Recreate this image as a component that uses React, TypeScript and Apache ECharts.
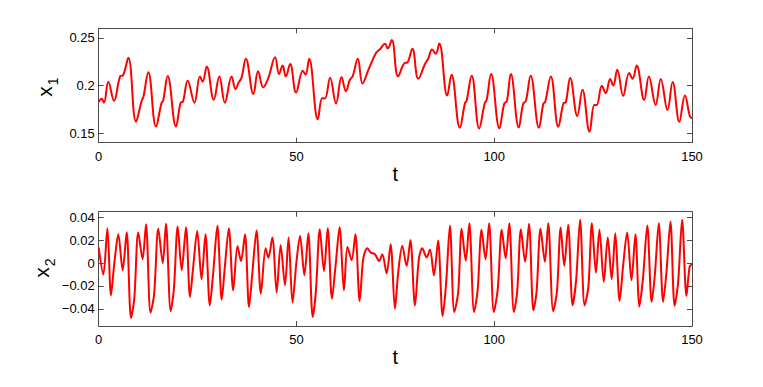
import React, { useEffect, useRef } from "react";
import * as echarts from "echarts";

const tTop = [0, 0.76, 1.34, 2.43, 3.87, 5.4, 6.2, 7.5, 9.43, 10.87, 11.3, 12.54, 14.48, 15.9, 16.3, 17.44, 19.54, 20.7, 21.3, 22.5, 24.2, 25.6, 26.3, 27.3, 29.1, 30.5, 31.9, 33.6, 34.6, 35.3, 36.1, 37.2, 39.1, 40.3, 41.6, 42.9, 44.6, 45.6, 46.5, 47.3, 48.4, 49.9, 51.6, 52.3, 53.2, 55.4, 56.5, 57.2, 58.5, 60, 61.4, 62.5, 63.5, 64.2, 65.5, 66.7, 68.2, 70.1, 71.1, 72.4, 73.05, 74.1, 75.7, 77.4, 78, 79.3, 80.8, 82.5, 83.3, 84.3, 85.2, 86.1, 88.1, 89.2, 91.3, 92.6, 93.0, 94.3, 96.2, 97.6, 98.1, 99.2, 101.3, 102.5, 103.2, 104.2, 106.2, 107.3, 108, 109.2, 111.3, 112.4, 112.9, 114.3, 116.2, 117.5, 118.1, 119.2, 121, 122.3, 124.1, 125.3, 125.9, 127.2, 128.2, 129.3, 130.1, 131.1, 132.6, 134.1, 135, 136, 137.9, 139.1, 140.8, 142.1, 143.8, 145.1, 146.8, 148.2, 149.5, 150];
const x1Values = [0.183, 0.186, 0.182, 0.204, 0.184, 0.2095, 0.211, 0.229, 0.162, 0.184, 0.188, 0.214, 0.157, 0.182, 0.184, 0.21, 0.157, 0.182, 0.183, 0.205, 0.182, 0.2095, 0.204, 0.22, 0.185, 0.2095, 0.182, 0.2095, 0.196, 0.2025, 0.208, 0.228, 0.191, 0.215, 0.198, 0.208, 0.2296, 0.212, 0.221, 0.2095, 0.2226, 0.1926, 0.2155, 0.2113, 0.228, 0.1645, 0.1867, 0.1863, 0.208, 0.181, 0.209, 0.194, 0.206, 0.2095, 0.228, 0.202, 0.2166, 0.234, 0.238, 0.2437, 0.2388, 0.2476, 0.2095, 0.2237, 0.224, 0.2385, 0.207, 0.2226, 0.228, 0.2377, 0.2332, 0.2441, 0.1894, 0.2113, 0.1556, 0.1814, 0.1838, 0.2103, 0.155, 0.1814, 0.185, 0.212, 0.155, 0.1807, 0.1838, 0.212, 0.156, 0.1807, 0.1838, 0.2103, 0.1556, 0.1807, 0.183, 0.2095, 0.1567, 0.1814, 0.1824, 0.2078, 0.168, 0.1955, 0.1514, 0.1796, 0.1796, 0.1997, 0.192, 0.2068, 0.2, 0.2166, 0.1891, 0.2131, 0.2071, 0.2211, 0.1849, 0.2095, 0.1796, 0.2068, 0.1743, 0.2036, 0.162, 0.1894, 0.1672, 0.166];

const tBottom = [0, 1.17, 2.2, 3.1, 3.95, 4.96, 6.06, 7.07, 8.17, 9.0, 10.0, 11.1, 11.96, 13.1, 14.0, 15.07, 16.2, 17.0, 18.2, 19.0, 19.97, 20.98, 22.07, 23.08, 23.9, 24.9, 26.0, 27.0, 28.1, 28.97, 30.0, 31.1, 31.9, 32.9, 34.0, 35.1, 35.97, 36.98, 38.0, 38.8, 39.9, 41.0, 42.2, 42.9, 43.9, 45.0, 46.0, 47.1, 48.0, 49.0, 50.0, 50.9, 52.0, 53.0, 54.1, 54.9, 55.9, 56.95, 57.9, 58.97, 59.9, 60.9, 62.0, 62.9, 63.95, 64.9, 65.97, 66.9, 67.9, 68.8, 69.8, 70.9, 71.7, 72.8, 73.8, 74.9, 75.7, 76.75, 77.85, 78.8, 79.95, 80.96, 81.8, 82.9, 83.75, 84.76, 85.8, 86.96, 87.8, 88.8, 89.9, 90.9, 91.76, 92.8, 93.7, 94.9, 95.8, 96.8, 97.8, 98.7, 99.9, 100.9, 101.9, 102.9, 103.8, 104.96, 105.8, 106.75, 107.8, 108.8, 109.9, 110.7, 111.7, 112.8, 113.65, 114.9, 115.85, 116.8, 117.7, 118.7, 119.8, 120.7, 121.7, 122.85, 123.8, 124.7, 125.7, 126.6, 127.7, 128.7, 129.7, 130.6, 131.7, 132.6, 133.6, 134.7, 135.7, 136.7, 137.6, 138.7, 139.8, 140.6, 141.6, 142.7, 143.55, 144.55, 145.6, 146.5, 147.5, 148.6, 149.4, 150];
const x2Values = [0.0136, -0.01, 0.0306, -0.0282, 0, 0.0253, -0.0062, 0.027, -0.048, -0.031, 0.0268, 0.0035, 0.034, -0.0434, -0.0276, 0.03, 0, 0.0344, -0.042, -0.023, 0.032, -0.0062, 0.0315, -0.0296, -0.003, 0.0282, -0.0141, 0.0253, -0.037, -0.0076, 0.0326, -0.032, -0.003, 0.0306, -0.0238, 0.015, 0.0018, 0.0253, -0.0384, -0.0106, 0.0285, -0.0267, 0.013, 0.0047, 0.0224, -0.0258, 0.0159, -0.0194, 0.0224, -0.0346, 0.0012, 0.0238, -0.0106, 0.0262, -0.0472, -0.0252, 0.0297, -0.007, 0.0306, -0.0311, -0.0018, 0.0315, -0.0238, 0.0144, 0.0026, 0.0253, -0.0331, 0.0041, 0.013, 0.0092, 0.008, 0.0018, 0.0077, -0.009, 0.0165, -0.04, -0.009, 0.0153, -0.0026, 0.0203, -0.037, 0.0041, 0.013, 0.005, 0.012, -0.0106, 0.0197, -0.0463, -0.0194, 0.033, -0.0428, -0.0252, 0.03, 0.0021, 0.035, -0.0428, -0.0238, 0.0291, 0.0035, 0.035, -0.0428, -0.0223, 0.0291, 0.0041, 0.035, -0.0428, -0.0252, 0.0297, 0.0012, 0.0344, -0.0414, -0.0252, 0.03, 0.0012, 0.035, -0.042, -0.0252, 0.0312, -0.0023, 0.0335, -0.037, -0.015, 0.0379, -0.037, -0.0208, 0.035, -0.0085, 0.0291, -0.0164, 0.0224, -0.0141, 0.0262, -0.0331, -0.0018, 0.0268, -0.015, 0.0253, -0.0379, -0.0135, 0.033, -0.034, -0.0106, 0.035, -0.034, -0.0076, 0.0365, -0.0375, -0.0164, 0.0379, -0.0287, -0.003, -0.001];

const xTicks = [0, 50, 100, 150];
const yTicksTop = [0.15, 0.2, 0.25];
const yTicksBottom = [-0.04, -0.02, 0, 0.02, 0.04];

const FONT = "'Liberation Sans', Arial, Helvetica, sans-serif";
const AXIS_COLOR = "#4a4a4a";

function zip(ts: number[], vs: number[]) {
  return ts.map((t, i) => [t, vs[i]]);
}

function fmt(v: number) {
  const s = String(Math.round(v * 1000) / 1000);
  return s.replace("-", "\u2212");
}

export default function App() {
  const ref = useRef<HTMLDivElement>(null);

  useEffect(() => {
    if (!ref.current) return;
    const chart = echarts.init(ref.current, undefined, { renderer: "svg" });

    const xBase = (gridIndex: number, top: boolean) => ({
      type: "value" as const,
      gridIndex,
      position: top ? "top" : "bottom",
      min: 0,
      max: 150,
      interval: 50,
      axisLine: { show: true, onZero: false, lineStyle: { color: AXIS_COLOR, width: 1 } },
      axisTick: { show: true, inside: true, length: 5, lineStyle: { color: AXIS_COLOR } },
      axisLabel: {
        show: !top,
        fontSize: 13,
        color: "#000",
        fontFamily: FONT,
        margin: 7,
        customValues: xTicks,
      },
      splitLine: { show: false },
      ...(top
        ? {}
        : {
            name: "t",
            nameLocation: "middle" as const,
            nameGap: 19,
            nameTextStyle: { fontSize: 20, color: "#000", fontFamily: FONT },
          }),
    });

    const yBase = (
      gridIndex: number,
      right: boolean,
      min: number,
      max: number,
      ticks: number[]
    ) => ({
      type: "value" as const,
      gridIndex,
      position: right ? "right" : "left",
      min,
      max,
      axisLine: { show: true, onZero: false, lineStyle: { color: AXIS_COLOR, width: 1 } },
      axisTick: {
        show: true,
        inside: true,
        length: 5,
        customValues: ticks,
        lineStyle: { color: AXIS_COLOR },
      },
      axisLabel: {
        show: !right,
        fontSize: 13,
        color: "#000",
        fontFamily: FONT,
        margin: 4,
        customValues: ticks,
        formatter: (v: number) => fmt(v),
      },
      splitLine: { show: false },
    });

    const subLabel = (x: number, y: number, sub: string) => ({
      type: "text",
      x,
      y,
      rotation: Math.PI / 2,
      style: {
        text: `{a|x}{b|${sub}}`,
        align: "center",
        verticalAlign: "middle",
        fill: "#000",
        rich: {
          a: { fontSize: 21, fontFamily: FONT, fill: "#000", verticalAlign: "top" },
          b: {
            fontSize: 14,
            fontFamily: FONT,
            fill: "#000",
            padding: [12, 0, 0, 1],
            verticalAlign: "bottom",
          },
        },
      },
    });

    chart.setOption({
      animation: false,
      backgroundColor: "#ffffff",
      grid: [
        { left: 98.7, top: 28.3, width: 593.3, height: 114.4 },
        { left: 98.7, top: 211.7, width: 593.3, height: 114.3 },
      ],
      xAxis: [xBase(0, false), xBase(0, true), xBase(1, false), xBase(1, true)],
      yAxis: [
        yBase(0, false, 0.14, 0.26, yTicksTop),
        yBase(0, true, 0.14, 0.26, yTicksTop),
        yBase(1, false, -0.055, 0.045, yTicksBottom),
        yBase(1, true, -0.055, 0.045, yTicksBottom),
      ],
      graphic: [subLabel(47, 87, "1"), subLabel(44, 268, "2")],
      series: [
        {
          type: "line",
          xAxisIndex: 0,
          yAxisIndex: 0,
          data: zip(tTop, x1Values),
          showSymbol: false,
          smooth: 0.4,
          lineStyle: { color: "#ff0000", width: 2 },
          itemStyle: { color: "#ff0000" },
        },
        {
          type: "line",
          xAxisIndex: 2,
          yAxisIndex: 2,
          data: zip(tBottom, x2Values),
          showSymbol: false,
          smooth: 0.3,
          lineStyle: { color: "#ff0000", width: 2 },
          itemStyle: { color: "#ff0000" },
        },
      ],
    });

    return () => chart.dispose();
  }, []);

  return (
    <div
      ref={ref}
      style={{
        position: "fixed",
        left: 0,
        top: 0,
        width: 763,
        height: 387,
        background: "#fff",
      }}
    />
  );
}
